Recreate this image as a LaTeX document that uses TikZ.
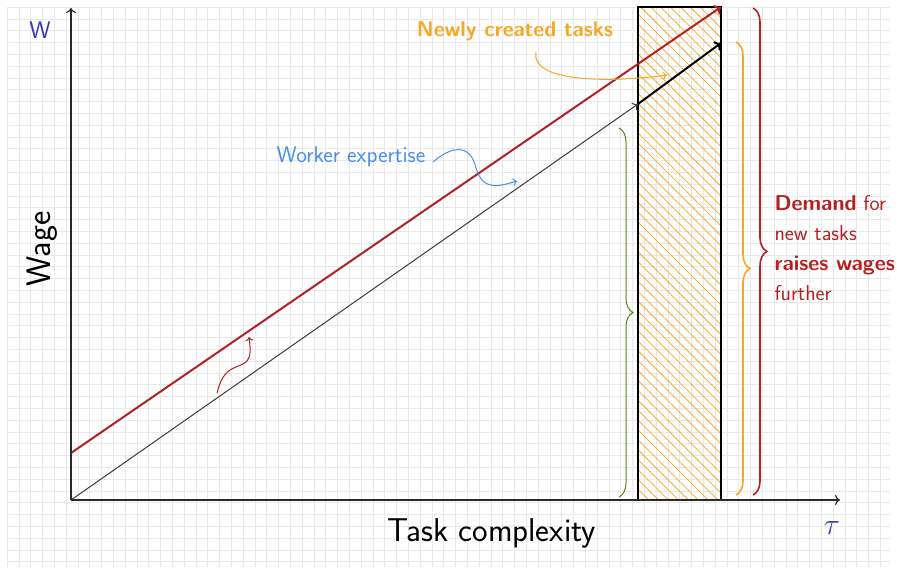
\RequirePackage{fix-cm}
\documentclass[tikz,border=0pt]{standalone}
\usetikzlibrary{arrows.meta,patterns.meta,decorations.pathreplacing}
\renewcommand\familydefault{\sfdefault}
\definecolor{myred}{RGB}{178,34,34}
\definecolor{myorange}{RGB}{246,168,33}
\definecolor{myblue}{RGB}{74,144,226}
\definecolor{mygreen}{RGB}{76,135,20}
\definecolor{axblue}{RGB}{50,60,170}
\definecolor{gridc}{RGB}{232,232,232}
\tikzset{
  gridline/.style={draw=gridc,line width=0.6pt},
  axis/.style={draw={rgb,255:red,40;green,40;blue,40},line width=1.2pt,-{To[length=5pt,width=10pt]}},
  thinline/.style={draw={rgb,255:red,60;green,60;blue,60},line width=1pt,-{To[length=5pt,width=9pt]}},
  thickline/.style={draw=black,line width=2pt,-{To[length=6pt,width=11pt]}},
  redline/.style={draw=myred,line width=2pt,-{To[length=6pt,width=11pt]}},
  curvearrow/.style={line width=1pt,-{To[length=4pt,width=8pt]}},
  bracestyle/.style={decorate,decoration={brace,amplitude=#1}},
}
\begin{document}
\begin{tikzpicture}[x=1pt,y=-1pt]
\useasboundingbox (0,0) rectangle (897,574);
% grid
\foreach \i in {0,...,74} \draw[gridline] ({7+11.8*\i},7) -- ({7+11.8*\i},567);
\foreach \j in {0,...,47} \draw[gridline] (7,{7+11.8*\j}) -- (890,{7+11.8*\j});
% coordinates
\coordinate (O) at (71,500);
\coordinate (ytop) at (71,8);
\coordinate (xend) at (840,500);
\coordinate (b1) at (638,104);
\coordinate (b2) at (721,43);
\coordinate (r0) at (71,453);
\coordinate (r1) at (721,7);
\coordinate (recttl) at (638,7);
\coordinate (rectbr) at (721,500);
% hatched rectangle
\path[pattern={Lines[angle=-45,distance=7pt,line width=0.75pt]},pattern color=myorange] (recttl) rectangle (rectbr);
\draw[black,line width=1.3pt] (recttl) rectangle (rectbr);
% lines
\draw[thinline] (O) -- (b1);
\draw[thickline] (b1) -- (b2);
\draw[redline] (r0) -- (r1);
% axes
\draw[axis] (O) -- (ytop);
\draw[axis] (O) -- (xend);
% braces
\draw[mygreen,line width=1pt,bracestyle=14pt] (619,128) -- (619,497);
\draw[myorange,line width=1.6pt,bracestyle=14pt] (736,42) -- (736,495);
\draw[myred,line width=1.6pt,bracestyle=14pt] (753,8) -- (753,495);
% labels
\node[text=axblue,font=\fontsize{24}{28}\selectfont] (wlab) at (40,30) {W};
\node[text=axblue,font=\fontsize{30}{34}\selectfont] (taulab) at (832,528) {$\tau$};
\node[font=\fontsize{33}{38}\selectfont] (xlab) at (492,533) {Task complexity};
\node[font=\fontsize{34}{38}\selectfont,rotate=90] (ylab) at (42,249) {Wage};
\node[text=myorange,font=\fontsize{21.3}{25}\selectfont\bfseries] (newly) at (515,31) {Newly created tasks};
\node[text=myblue,font=\fontsize{22.7}{26}\selectfont] (worker) at (351,157) {Worker expertise};
\node[text=myred,font=\fontsize{21.5}{30}\selectfont,anchor=west,align=left] (demand) at (771,248)
  {\textbf{Demand} for\\new tasks\\\textbf{raises wages}\\further};
% curved arrows
\coordinate (oa) at (536,52);
\coordinate (ob) at (667,75);
\draw[myorange,curvearrow] (oa) .. controls (530,80) and (600,84) .. (ob);
\coordinate (ba) at (433,162);
\coordinate (bm) at (476,168);
\coordinate (bb) at (517,181);
\draw[myblue,curvearrow] (ba) .. controls (450,147) and (470,142) .. (bm) .. controls (483,192) and (500,186) .. (bb);
\coordinate (ra) at (217,393);
\coordinate (rm) at (246,362);
\coordinate (rb) at (249,337);
\draw[myred,curvearrow] (ra) .. controls (224,364) and (238,369) .. (rm) .. controls (252,356) and (250,346) .. (rb);
\end{tikzpicture}
\end{document}
